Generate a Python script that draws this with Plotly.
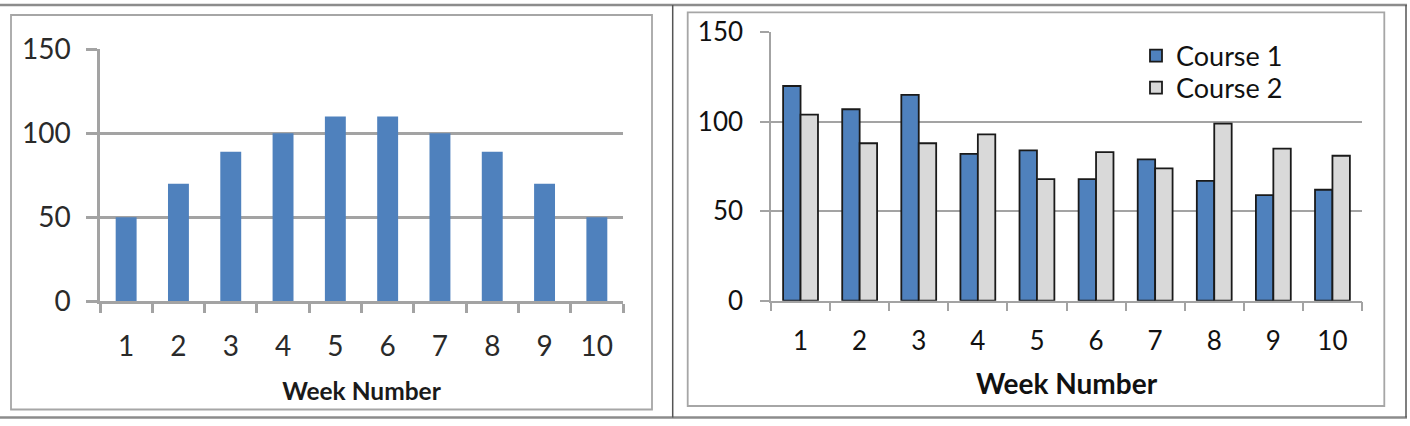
import plotly.graph_objects as go

W, H = 1410, 426

weeks = ["1", "2", "3", "4", "5", "6", "7", "8", "9", "10"]
single_values = [50, 70, 89, 100, 110, 110, 100, 89, 70, 50]
course1 = [120, 107, 115, 82, 84, 68, 79, 67, 59, 62]
course2 = [104, 88, 88, 93, 68, 83, 74, 99, 85, 81]
y_ticks = [0, 50, 100, 150]
x_title = "Week Number"
series_names = ["Course 1", "Course 2"]


def px(x):
    return x / W


def py(y):
    return 1 - y / H


BLUE = "#4f81bd"
GREY_BAR = "#d9d9d9"
GRID = "#a3a3a3"
FONT = "Lato"

fig = go.Figure()

fig.add_trace(go.Bar(x=weeks, y=single_values, marker=dict(color=BLUE, line=dict(width=0)),
                     width=0.4, showlegend=False, xaxis="x", yaxis="y"))
fig.add_trace(go.Bar(x=weeks, y=course1, name=series_names[0],
                     marker=dict(color=BLUE, line=dict(color="#1a1a1a", width=1.8)),
                     xaxis="x2", yaxis="y2", legend="legend"))
fig.add_trace(go.Bar(x=weeks, y=course2, name=series_names[1],
                     marker=dict(color=GREY_BAR, line=dict(color="#1a1a1a", width=1.8)),
                     xaxis="x2", yaxis="y2", legend="legend2"))

common_x = dict(type="category", tickson="boundaries", ticks="outside", showgrid=False,
                zeroline=False, showline=True, fixedrange=True, automargin=False)
common_y = dict(range=[0, 150], tickvals=y_ticks, ticks="outside", showgrid=True,
                zeroline=False, showline=True, fixedrange=True, automargin=False)

leg_common = dict(xanchor="left", yanchor="middle",
                  font=dict(family=FONT, size=27, color="#111"),
                  bgcolor="rgba(0,0,0,0)", itemwidth=30)

fig.update_layout(
    width=W, height=H,
    margin=dict(l=0, r=0, t=0, b=0, autoexpand=False),
    paper_bgcolor="white", plot_bgcolor="white",
    barmode="group",
    bargap=0.41, bargroupgap=0,
    xaxis=dict(**common_x, domain=[px(100), px(623)], anchor="y",
               linecolor=GRID, linewidth=2.5, tickcolor=GRID, tickwidth=2.5, ticklen=9,
               tickfont=dict(family=FONT, size=28, color="#2a2a2a"), ticklabelstandoff=18,
               title=dict(text=x_title, font=dict(family=FONT, size=24.5, color="#1a1a1a", weight="bold"),
                          standoff=23)),
    yaxis=dict(**common_y, domain=[py(301.3), py(49.3)], anchor="x",
               linecolor=GRID, linewidth=2.5, tickcolor=GRID, tickwidth=2.5, ticklen=11,
               gridcolor=GRID, gridwidth=2.5,
               tickfont=dict(family=FONT, size=28, color="#2a2a2a"), ticklabelstandoff=10),
    xaxis2=dict(**common_x, domain=[px(771), px(1362)], anchor="y2",
                linecolor=GRID, linewidth=1.5, tickcolor=GRID, tickwidth=1.5, ticklen=9,
                tickfont=dict(family=FONT, size=26, color="#111"), ticklabelstandoff=16,
                title=dict(text=x_title, font=dict(family=FONT, size=28, color="#111", weight="bold"),
                           standoff=20)),
    yaxis2=dict(**common_y, domain=[py(300.7), py(32.3)], anchor="x2",
                linecolor=GRID, linewidth=1.5, tickcolor=GRID, tickwidth=1.5, ticklen=9,
                gridcolor=GRID, gridwidth=1.5,
                tickfont=dict(family=FONT, size=26, color="#111"), ticklabelstandoff=12),
    legend=dict(**leg_common, x=px(1136), y=py(56)),
    legend2=dict(**leg_common, x=px(1136), y=py(88)),
)

shapes = []
TABLE = "#8c8c8c"
BOX = "#a6a6a6"
# table lines
shapes.append(dict(type="line", xref="paper", yref="paper", x0=0, x1=px(1407), y0=py(5), y1=py(5),
                   line=dict(color=TABLE, width=2.5)))
shapes.append(dict(type="line", xref="paper", yref="paper", x0=0, x1=px(1407), y0=py(417.5), y1=py(417.5),
                   line=dict(color=TABLE, width=2.5)))
shapes.append(dict(type="line", xref="paper", yref="paper", x0=px(672.7), x1=px(672.7), y0=py(5), y1=py(417.5),
                   line=dict(color="#555", width=1.5)))
shapes.append(dict(type="line", xref="paper", yref="paper", x0=px(1406), x1=px(1406), y0=py(5), y1=py(417.5),
                   line=dict(color="#555", width=1.5)))
# inner chart boxes
shapes.append(dict(type="rect", xref="paper", yref="paper", x0=px(11), x1=px(652), y0=py(409.5), y1=py(15),
                   line=dict(color=BOX, width=1.8)))
shapes.append(dict(type="rect", xref="paper", yref="paper", x0=px(687.7), x1=px(1384.3), y0=py(406), y1=py(12.3),
                   line=dict(color=BOX, width=1.8)))
fig.update_layout(shapes=shapes)

fig.write_html("out.html")
